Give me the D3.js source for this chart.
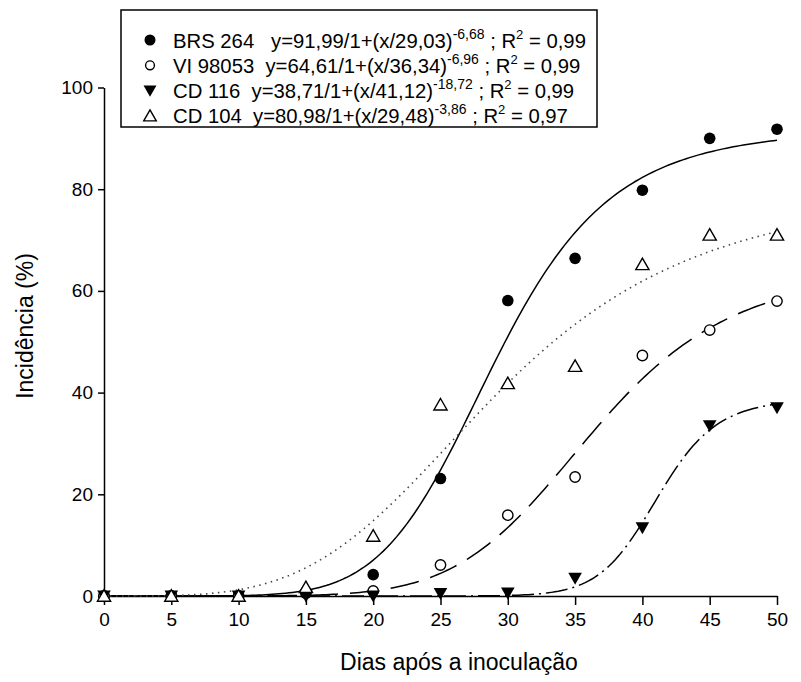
<!DOCTYPE html>
<html>
<head>
<meta charset="utf-8">
<script src="https://cdn.jsdelivr.net/npm/d3@7"></script>
<style>
  html, body { margin: 0; padding: 0; background: #fff; }
  svg { display: block; font-family: Arial, "Liberation Sans", sans-serif; }
</style>
</head>
<body>
<svg id="chart" width="801" height="682"></svg>
<script>
// ---- data ----
const days = [0, 5, 10, 15, 20, 25, 30, 35, 40, 45, 50];
const brs264 = [0, 0, 0, 0.5, 4.2, 23.1, 58.1, 66.4, 79.8, 90.0, 91.8];
const vi98053 = [0, 0, 0, 0.8, 1.0, 6.1, 15.9, 23.4, 47.3, 52.3, 58.0];
const cd116 = [0, 0, 0, 0, 0, 0.5, 0.6, 3.5, 13.4, 33.5, 37.0];
const cd104 = [0, 0, 0, 1.7, 11.8, 37.6, 41.8, 45.2, 65.2, 71.0, 71.0];

const seriesNames = ["BRS 264", "VI 98053", "CD 116", "CD 104"];
const nameGaps = ["   ", "  ", "  ", "  "];
// fitted model parameters y = a / (1 + (x/b)^c)
const fitA = [91.99, 64.61, 38.71, 80.98];
const fitB = [29.03, 36.34, 41.12, 29.48];
const fitC = [-6.68, -6.96, -18.72, -3.86];
const fitR2 = ["0,99", "0,99", "0,99", "0,97"];

const xTicks = [0, 5, 10, 15, 20, 25, 30, 35, 40, 45, 50];
const yTicks = [0, 20, 40, 60, 80, 100];
const xTitle = "Dias após a inoculação";
const yTitle = "Incidência (%)";

// ---- layout ----
const svg = d3.select("#chart");
const x = d3.scaleLinear().domain([0, 50]).range([104, 777]);
const y = d3.scaleLinear().domain([0, 100]).range([596, 87.5]);

const markerTypes = ["filledCircle", "openCircle", "filledDown", "openUp"];
const dashes = [null, "29,12", "22,5,2,5", "1.5,4.5"];
const lineColors = ["#000", "#000", "#000", "#444"];
const seriesValues = [brs264, vi98053, cd116, cd104];

// ---- axes ----
const yAxis = d3.axisLeft(y).tickValues(yTicks).tickSize(6).tickSizeOuter(0).tickPadding(5);
const xAxis = d3.axisBottom(x).tickValues(xTicks).tickSize(9).tickSizeOuter(0).tickPadding(8);

const gy = svg.append("g").attr("transform", `translate(${x(0)},0)`).call(yAxis);
const gx = svg.append("g").attr("transform", `translate(0,${y(0)})`).call(xAxis);
[gx, gy].forEach(g => {
  g.select(".domain").attr("stroke", "#000").attr("stroke-width", 1.5);
  g.selectAll(".tick line").attr("stroke", "#000").attr("stroke-width", 1.5);
  g.selectAll(".tick text").attr("fill", "#000").style("font-size", "19px")
    .style("font-family", "Arial, 'Liberation Sans', sans-serif");
});

svg.append("text").attr("x", 459).attr("y", 670).attr("text-anchor", "middle")
  .style("font-size", "23px").text(xTitle);
svg.append("text").attr("transform", "translate(33,326) rotate(-90)").attr("text-anchor", "middle")
  .style("font-size", "23px").text(yTitle);

// ---- fitted curves ----
const line = d3.line().x(d => x(d[0])).y(d => y(d[1]));
const sampleX = d3.range(0, 50.001, 0.25);
seriesNames.forEach((n, i) => {
  const pts = sampleX.map(t => {
    const v = t === 0 ? 0 : fitA[i] / (1 + Math.pow(t / fitB[i], fitC[i]));
    return [t, v];
  });
  svg.append("path").datum(pts).attr("d", line)
    .attr("fill", "none").attr("stroke", lineColors[i]).attr("stroke-width", i === 3 ? 1.6 : 1.5)
    .attr("stroke-dasharray", dashes[i]);
});

// ---- markers ----
function drawMarker(g, type, cx, cy, s) {
  s = s || 1;
  if (type === "filledCircle") {
    g.append("circle").attr("cx", cx).attr("cy", cy).attr("r", 5.8 * s).attr("fill", "#000");
  } else if (type === "openCircle") {
    g.append("circle").attr("cx", cx).attr("cy", cy).attr("r", 5.2 * s)
      .attr("fill", "#fff").attr("stroke", "#000").attr("stroke-width", 1.4);
  } else if (type === "filledDown") {
    g.append("path").attr("d", `M${cx - 6.8 * s},${cy - 5.5 * s} L${cx + 6.8 * s},${cy - 5.5 * s} L${cx},${cy + 6.5 * s} Z`)
      .attr("fill", "#000");
  } else {
    g.append("path").attr("d", `M${cx},${cy - 6.3 * s} L${cx + 6.6 * s},${cy + 5.2 * s} L${cx - 6.6 * s},${cy + 5.2 * s} Z`)
      .attr("fill", "#fff").attr("stroke", "#000").attr("stroke-width", 1.4).attr("stroke-linejoin", "miter");
  }
}
const gm = svg.append("g");
seriesValues.forEach((vals, i) => {
  vals.forEach((v, j) => drawMarker(gm, markerTypes[i], x(days[j]), y(v)));
});

// ---- legend ----
const fmt = v => v.toFixed(2).replace(".", ",");
const lg = svg.append("g");
lg.append("rect").attr("x", 121).attr("y", 10).attr("width", 476).attr("height", 117)
  .attr("fill", "#fff").attr("stroke", "#000").attr("stroke-width", 1.5);
seriesNames.forEach((n, i) => {
  const cy = 40 + i * 25.3;
  drawMarker(lg, markerTypes[i], 150, cy, i === 1 ? 0.85 : 0.95);
  const t = lg.append("text").attr("x", 173).attr("y", cy + 7.5).style("font-size", "20.3px")
    .attr("xml:space", "preserve").style("white-space", "pre");
  t.append("tspan").text(`${n}${nameGaps[i]}y=${fmt(fitA[i])}/1+(x/${fmt(fitB[i])})`);
  t.append("tspan").attr("dy", -9).style("font-size", "14px").text(fmt(fitC[i]));
  t.append("tspan").attr("dy", 9).text(" ; R");
  t.append("tspan").attr("dy", -9).style("font-size", "13px").text("2");
  t.append("tspan").attr("dy", 9).text(` = ${fitR2[i]}`);
});
</script>
</body>
</html>
